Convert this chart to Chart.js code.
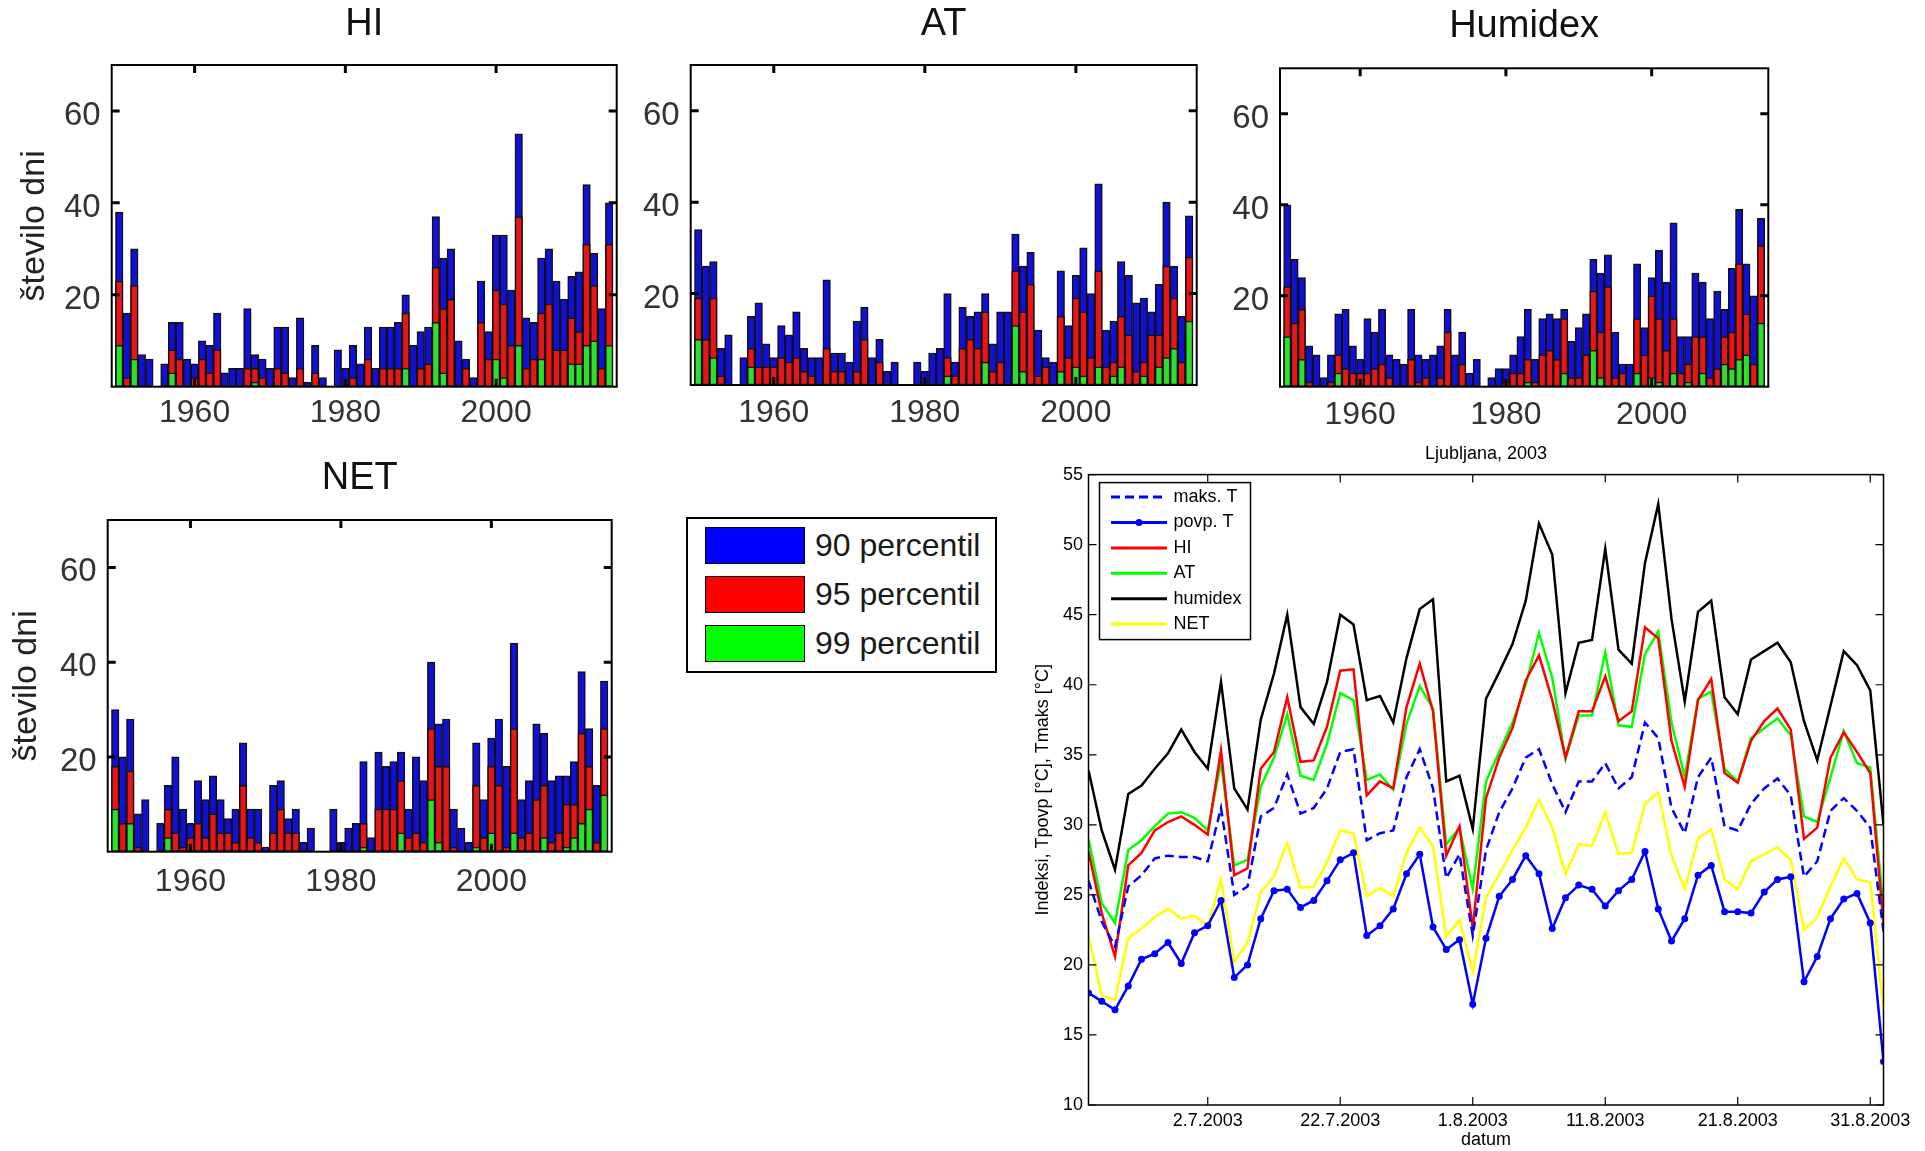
<!DOCTYPE html>
<html>
<head>
<meta charset="utf-8">
<script src="https://cdn.jsdelivr.net/npm/chart.js@4/dist/chart.umd.min.js"></script>
<style>
  body { margin: 0; background: #fff; width: 1925px; height: 1151px; position: relative; overflow: hidden;
         font-family: 'Liberation Sans', Arial, sans-serif; }
  canvas { position: absolute; }
  #pctLegend { position: absolute; left: 686px; top: 517px; width: 311px; height: 156px;
               box-sizing: border-box; border: 2px solid #000; background: #fff; }
  #pctLegend .sw { position: absolute; left: 17px; width: 100px; height: 37px; box-sizing: border-box; border: 1px solid #000; }
  #pctLegend .tx { position: absolute; left: 127px; height: 37px; line-height: 37px; font-size: 32px; color: #1a1a1a; white-space: nowrap; }
</style>
</head>
<body>
<canvas id="hiChart" width="640" height="440" style="left:0px;top:0px"></canvas>
<canvas id="atChart" width="595" height="440" style="left:620px;top:0px"></canvas>
<canvas id="humChart" width="575" height="440" style="left:1215px;top:0px"></canvas>
<canvas id="netChart" width="640" height="460" style="left:0px;top:440px"></canvas>
<canvas id="lineChart" width="925" height="711" style="left:1000px;top:440px"></canvas>
<div id="pctLegend">
  <div class="sw" style="top:8px;background:#0000ff"></div><div class="tx" style="top:8px">90 percentil</div>
  <div class="sw" style="top:57px;background:#ff0000"></div><div class="tx" style="top:57px">95 percentil</div>
  <div class="sw" style="top:106px;background:#00ff00"></div><div class="tx" style="top:106px">99 percentil</div>
</div>
<script>
// years shown in the four bar panels
const years = [1950,1951,1952,1953,1954,1955,1956,1957,1958,1959,
               1960,1961,1962,1963,1964,1965,1966,1967,1968,1969,
               1970,1971,1972,1973,1974,1975,1976,1977,1978,1979,
               1980,1981,1982,1983,1984,1985,1986,1987,1988,1989,
               1990,1991,1992,1993,1994,1995,1996,1997,1998,1999,
               2000,2001,2002,2003,2004,2005,2006,2007,2008,2009,
               2010,2011,2012,2013,2014,2015];
const yearTicks = [1960, 1980, 2000];
const countTicks = [20, 40, 60];

// number of days above the 90th / 95th / 99th percentile
const hi90 = [38,16,30,7,6,0,5,14,14,6, 5,10,9,16,3,4,4,17,7,6, 4,13,13,2,15,1,9,2,0,8,
              4,9,5,13,4,13,13,14,20,9, 12,13,37,28,30,10,6,2,23,12, 33,33,21,55,15,14,28,30,23,19, 24,25,44,29,17,40];
const hi95 = [23,2,22,0,0,0,0,8,6,0, 2,6,3,8,0,0,0,4,4,2, 0,4,3,0,4,0,3,0,0,0,
              0,2,0,6,0,4,4,4,16,0, 4,5,26,17,19,0,4,0,14,6, 21,18,9,37,4,6,16,18,8,8, 15,12,31,22,4,31];
const hi99 = [9,0,6,0,0,0,0,3,0,0, 0,0,0,0,0,0,0,0,1,0, 0,0,0,0,0,0,0,0,0,0,
              0,0,0,0,0,0,0,0,4,0, 0,0,14,3,0,0,0,0,0,0, 6,2,0,9,0,0,6,0,0,0, 5,5,9,10,0,9];

const at90 = [34,26,27,8,11,0,6,15,18,9, 6,13,11,16,8,6,6,23,7,7, 5,14,17,6,10,3,5,0,0,5,
              3,7,8,20,5,17,15,16,20,9, 16,16,33,26,29,12,6,5,25,13, 24,30,20,44,12,14,27,24,18,19, 16,22,40,26,15,37];
const at95 = [19,10,19,2,0,0,0,8,4,4, 4,6,5,6,3,2,0,8,3,3, 0,3,10,0,5,0,0,0,0,0,
              0,0,0,6,2,8,10,8,16,3, 5,0,25,16,22,2,4,0,15,6, 19,16,6,25,4,5,15,11,3,5, 11,11,26,19,5,28];
const at99 = [10,0,6,0,0,0,0,4,0,0, 0,0,0,0,0,0,0,0,0,0, 0,0,0,0,0,0,0,0,0,0,
              0,0,0,2,0,0,0,0,5,0, 0,0,13,3,0,0,0,0,3,0, 4,2,0,4,0,2,4,0,0,2, 0,4,6,8,0,14];

const hum90 = [40,28,24,9,7,2,7,16,17,9, 6,15,12,17,7,6,5,17,7,6, 7,9,17,7,12,3,6,0,2,4,
               4,7,11,17,6,15,16,15,17,10, 13,16,28,25,29,12,5,5,27,13, 24,30,23,36,11,11,25,23,15,21, 17,26,39,27,20,37];
const hum95 = [22,14,17,1,0,0,1,7,4,3, 3,3,4,5,2,0,0,6,1,2, 0,2,12,0,5,0,0,0,0,0,
               1,3,3,6,1,7,8,6,15,2, 2,7,21,12,22,2,3,0,15,7, 20,15,8,15,3,5,11,11,2,4, 11,12,27,16,5,31];
const hum99 = [11,0,6,0,0,0,0,3,0,0, 0,0,0,0,0,0,0,0,0,0, 0,0,0,0,0,0,0,0,0,0,
               0,0,0,1,0,0,0,0,3,0, 0,0,8,2,0,0,0,0,3,0, 2,1,0,3,0,1,0,3,0,0, 5,4,6,7,0,14];

const net90 = [30,20,28,8,11,0,6,14,20,9, 6,15,11,16,11,7,9,23,9,9, 1,14,15,7,9,2,5,0,0,9,
               2,5,6,19,3,21,18,19,21,9, 20,15,40,27,28,9,5,2,23,11, 24,28,18,44,11,15,27,25,15,16, 16,19,38,26,14,36];
const net95 = [18,6,17,1,0,0,0,9,4,1, 3,6,3,8,4,4,2,14,3,2, 0,4,9,4,4,0,0,0,0,0,
               0,0,0,6,0,9,9,9,15,3, 4,2,26,18,18,1,0,0,14,3, 18,14,1,26,3,4,11,14,2,4, 10,10,25,18,2,26];
const net99 = [9,0,6,0,0,0,0,3,0,0, 0,0,0,0,0,0,0,0,0,0, 0,0,0,0,0,0,0,0,0,0,
               0,0,0,1,0,0,0,0,4,0, 0,0,11,2,0,0,0,0,1,0, 4,0,0,4,0,0,0,3,0,0, 1,3,6,9,0,12];

// Ljubljana 2003, daily values (61 days)
const dateTickPos = [9, 19, 29, 39, 49, 59];
const dateTickLabels = ['2.7.2003', '22.7.2003', '1.8.2003', '11.8.2003', '21.8.2003', '31.8.2003'];
const maksT = [26.0,23.1,21.3,25.6,26.4,27.6,27.8,27.7,27.7,27.4,31.2,25.0,25.6,30.6,31.2,33.6,30.8,31.2,32.6,35.2,
               35.4,28.9,29.4,29.6,33.4,35.4,32.6,26.2,27.9,22.1,28.2,30.9,32.6,34.8,35.4,32.9,30.9,33.1,33.1,34.4,
               32.6,33.4,37.3,36.2,31.2,29.4,33.4,34.8,29.9,29.6,31.5,32.6,33.3,32.1,26.3,27.4,31.0,31.9,31.0,29.8,22.4];
const povpT = [18.0,17.4,16.8,18.5,20.4,20.8,21.6,20.1,22.3,22.8,24.6,19.1,20.0,23.3,25.3,25.4,24.1,24.6,26.0,27.5,
               28.0,22.1,22.8,24.0,26.5,27.9,22.7,21.1,21.8,17.2,21.9,24.9,26.1,27.8,26.5,22.6,24.8,25.7,25.4,24.2,
               25.3,26.1,28.1,24.0,21.7,23.3,26.4,27.1,23.8,23.8,23.7,25.2,26.1,26.3,18.8,20.6,23.3,24.7,25.1,23.0,13.1];
const hiDaily = [28.1,23.7,20.6,27.1,28.0,29.6,30.2,30.6,30.0,29.3,35.3,26.4,26.9,34.0,35.2,39.1,34.5,34.6,37.0,41.0,
                 41.1,32.1,33.1,32.6,38.4,41.5,38.1,27.8,29.9,22.6,31.9,34.8,36.9,40.3,42.1,38.9,34.8,38.1,38.1,40.6,
                 37.4,38.1,44.1,43.3,36.0,32.7,38.9,40.4,33.7,33.0,36.0,37.4,38.3,36.8,29.0,29.8,34.8,36.6,35.2,33.7,22.9];
const atDaily = [29.0,24.4,23.0,28.2,28.9,29.9,30.8,30.9,30.5,29.6,34.5,27.1,27.5,32.7,34.8,37.9,33.5,33.2,35.8,39.4,
                 38.9,33.2,33.6,32.5,37.2,39.9,38.3,28.6,29.8,25.4,33.1,35.2,37.3,40.0,43.7,40.5,34.7,37.8,37.8,42.3,
                 37.1,37.0,42.2,43.8,37.3,33.4,39.0,39.5,34.0,33.1,36.2,36.9,37.6,36.4,30.6,30.2,33.4,36.7,34.4,34.1,24.0];
const humidexDaily = [33.9,29.6,26.8,32.2,32.8,34.0,35.1,36.8,35.2,34.0,40.2,32.6,31.1,37.5,40.8,45.0,38.4,37.2,40.2,45.0,
                      44.3,38.9,39.2,37.3,41.9,45.4,46.1,33.1,33.5,29.7,39.0,40.9,42.9,46.0,51.5,49.3,39.4,43.0,43.2,49.7,
                      42.5,41.5,48.7,52.9,44.7,38.8,45.2,46.0,39.1,37.9,41.8,42.4,43.0,41.6,37.4,34.6,38.5,42.4,41.4,39.6,30.0];
const netDaily = [22.1,17.8,17.5,21.9,22.6,23.4,24.0,23.3,23.5,22.8,26.1,20.2,21.6,25.2,26.3,28.7,25.5,25.6,27.3,29.6,
                  29.4,24.9,25.5,24.9,28.0,29.8,28.5,22.0,23.2,19.5,24.8,26.5,28.2,29.8,31.8,29.8,26.5,28.6,28.5,30.9,
                  27.9,28.0,31.5,32.3,27.8,25.4,29.0,29.7,26.1,25.4,27.4,27.9,28.4,27.5,22.5,23.4,25.6,27.6,26.1,25.9,16.8];

Chart.defaults.font.family = "'Liberation Sans', Arial, sans-serif";

// box around the plot plus inward tick marks on all four sides (matlab style)
const frameTicks = {
  id: 'frameTicks',
  afterDatasetsDraw(chart, args, o) {
    const { ctx, chartArea: a, scales: { x, y } } = chart;
    ctx.save();
    ctx.strokeStyle = '#000';
    ctx.lineWidth = o.tickWidth;
    ctx.beginPath();
    x.ticks.forEach(t => {
      const px = x.getPixelForValue(t.value);
      ctx.moveTo(px, a.bottom); ctx.lineTo(px, a.bottom - o.len);
      ctx.moveTo(px, a.top); ctx.lineTo(px, a.top + o.len);
    });
    y.ticks.forEach(t => {
      const py = y.getPixelForValue(t.value);
      ctx.moveTo(a.left, py); ctx.lineTo(a.left + o.len, py);
      ctx.moveTo(a.right, py); ctx.lineTo(a.right - o.len, py);
    });
    ctx.stroke();
    ctx.lineWidth = o.frameWidth;
    ctx.strokeRect(a.left, a.top, a.right - a.left, a.bottom - a.top);
    ctx.restore();
  }
};

function barPanel(id, title, b90, b95, b99, opt) {
  const toXY = arr => arr.map((v, i) => ({ x: years[i], y: v }));
  const common = { grouped: false, borderColor: '#111', borderWidth: 1.5, borderSkipped: false,
                   barPercentage: 1, categoryPercentage: 1 };
  return new Chart(document.getElementById(id), {
    type: 'bar',
    data: {
      datasets: [
        Object.assign({ label: '99 percentil', data: toXY(b99), backgroundColor: '#2ee02e' }, common),
        Object.assign({ label: '95 percentil', data: toXY(b95), backgroundColor: '#e81616' }, common),
        Object.assign({ label: '90 percentil', data: toXY(b90), backgroundColor: '#1010d8' }, common)
      ]
    },
    options: {
      responsive: false,
      animation: false,
      layout: { padding: { left: 0, right: opt.padR, top: 0, bottom: 0 } },
      plugins: {
        legend: { display: false },
        tooltip: { enabled: false },
        title: { display: true, text: title, fullSize: false, color: '#111',
                 font: { size: 38, weight: 'normal', lineHeight: 1 },
                 padding: { top: opt.tTop, bottom: opt.tBot } },
        frameTicks: { len: 8, tickWidth: 3, frameWidth: 2 }
      },
      scales: {
        x: {
          type: 'linear', min: 1949, max: 2016, offset: false,
          grid: { display: false, drawTicks: false }, border: { display: false },
          afterBuildTicks: s => { s.ticks = yearTicks.map(v => ({ value: v })); },
          afterFit: s => { s.height = opt.xH; },
          ticks: { font: { size: 32 }, color: '#333', padding: opt.xPad, maxRotation: 0, autoSkip: false,
                   callback: v => String(v) }
        },
        y: {
          min: 0, max: 70,
          grid: { display: false, drawTicks: false }, border: { display: false },
          afterBuildTicks: s => { s.ticks = countTicks.map(v => ({ value: v })); },
          afterFit: s => { s.width = opt.yW; },
          ticks: { font: { size: 33 }, color: '#333', padding: 11, labelOffset: 5, callback: v => String(v) },
          title: { display: !!opt.yTitle, text: 'število dni', color: '#222',
                   font: { size: 34 }, padding: { top: opt.yTitlePad || 0, bottom: 0 } }
        }
      }
    },
    plugins: [frameTicks]
  });
}

barPanel('hiChart', 'HI', hi90, hi95, hi99,
  { padR: 23.3, yW: 111.7, xH: 53.3, tTop: 6, tBot: 21, xPad: 6.8, yTitle: true, yTitlePad: 14 });
barPanel('atChart', 'AT', at90, at95, at99,
  { padR: 18.3, yW: 70.7, xH: 55, tTop: 6, tBot: 21, xPad: 8.5 });
barPanel('humChart', 'Humidex', hum90, hum95, hum99,
  { padR: 21.7, yW: 65, xH: 53.3, tTop: 8, tBot: 22.3, xPad: 9.3 });
barPanel('netChart', 'NET', net90, net95, net99,
  { padR: 28.3, yW: 107.7, xH: 48.3, tTop: 20, tBot: 22, xPad: 10.8, yTitle: true, yTitlePad: 6 });

// legend inside the line chart, upper left corner
const lineLegend = {
  id: 'lineLegend',
  afterDraw(chart) {
    const { ctx, chartArea: a } = chart;
    const bx = a.left + 11, by = a.top + 8, bw = 151, bh = 157;
    ctx.save();
    ctx.fillStyle = '#fff';
    ctx.fillRect(bx, by, bw, bh);
    ctx.strokeStyle = '#000';
    ctx.lineWidth = 1.5;
    ctx.strokeRect(bx, by, bw, bh);
    ctx.font = "18px 'Liberation Sans', Arial, sans-serif";
    ctx.textBaseline = 'middle';
    chart.data.datasets.forEach((ds, k) => {
      const yy = by + 14.5 + 25.4 * k;
      ctx.strokeStyle = ds.borderColor;
      ctx.lineWidth = 3;
      ctx.setLineDash(ds.borderDash || []);
      ctx.beginPath();
      ctx.moveTo(bx + 11.5, yy);
      ctx.lineTo(bx + 67.5, yy);
      ctx.stroke();
      ctx.setLineDash([]);
      if (ds.pointRadius) {
        ctx.fillStyle = ds.borderColor;
        ctx.beginPath();
        ctx.arc(bx + 39.5, yy, ds.pointRadius, 0, 2 * Math.PI);
        ctx.fill();
      }
      ctx.fillStyle = '#000';
      ctx.fillText(ds.label, bx + 74, yy);
    });
    ctx.restore();
  }
};

const toDays = arr => arr.map((v, i) => ({ x: i, y: v }));
const lineDs = (label, arr, color, extra) => Object.assign({
  label: label, data: toDays(arr), borderColor: color, backgroundColor: color,
  borderWidth: 2.5, pointRadius: 0, fill: false, tension: 0
}, extra || {});

new Chart(document.getElementById('lineChart'), {
  type: 'line',
  data: {
    datasets: [
      lineDs('maks. T', maksT, '#0000ff', { borderDash: [9, 5] }),
      lineDs('povp. T', povpT, '#0000ff', { pointRadius: 3.5, pointBackgroundColor: '#0000ff', pointBorderWidth: 0 }),
      lineDs('HI', hiDaily, '#ff0000'),
      lineDs('AT', atDaily, '#00ff00'),
      lineDs('humidex', humidexDaily, '#000000'),
      lineDs('NET', netDaily, '#ffff00')
    ]
  },
  options: {
    responsive: false,
    animation: false,
    layout: { padding: { left: 0, right: 41.5, top: 0, bottom: 0 } },
    plugins: {
      legend: { display: false },
      tooltip: { enabled: false },
      title: { display: true, text: 'Ljubljana, 2003', fullSize: false, color: '#000',
               font: { size: 18, weight: 'normal', lineHeight: 1.2 }, padding: { top: 3, bottom: 10 } },
      frameTicks: { len: 8, tickWidth: 1.2, frameWidth: 1.5 }
    },
    scales: {
      x: {
        type: 'linear', min: 0, max: 60,
        grid: { display: false, drawTicks: false }, border: { display: false },
        afterBuildTicks: s => { s.ticks = dateTickPos.map(v => ({ value: v })); },
        afterFit: s => { s.height = 46; },
        ticks: { font: { size: 18 }, color: '#000', padding: 5, maxRotation: 0, autoSkip: false,
                 callback: v => dateTickLabels[dateTickPos.indexOf(v)] },
        title: { display: true, text: 'datum', color: '#000', font: { size: 18 }, padding: { top: 0, bottom: 0 } }
      },
      y: {
        min: 10, max: 55,
        grid: { display: false, drawTicks: false }, border: { display: false },
        afterFit: s => { s.width = 88.5; },
        ticks: { stepSize: 5, font: { size: 18 }, color: '#000', padding: 5.5 },
        title: { display: true, text: 'Indeksi, Tpovp [°C], Tmaks [°C]', color: '#000',
                 font: { size: 18 }, padding: { top: 32, bottom: 0 } }
      }
    }
  },
  plugins: [frameTicks, lineLegend]
});
</script>
</body>
</html>
